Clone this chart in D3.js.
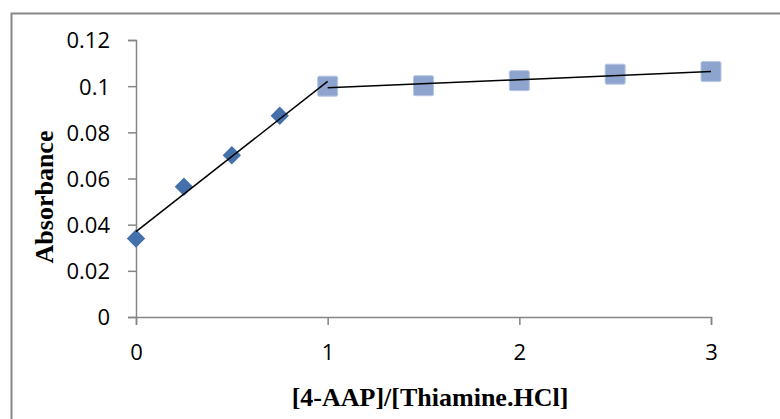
<!DOCTYPE html>
<html>
<head>
<meta charset="utf-8">
<script src="https://cdn.jsdelivr.net/npm/d3@7"></script>
<style>
  body { margin: 0; background: #fff; }
  .axis-title { font-family: "Liberation Serif", "DejaVu Serif", serif; font-weight: 700; fill: #000; }
</style>
</head>
<body>
<div id="chart"></div>
<script>
// ratio [4-AAP]/[Thiamine.HCl] vs absorbance
const riseX = [0, 0.25, 0.5, 0.75];
const riseY = [0.034, 0.0564, 0.0701, 0.0872];
const plateauX = [1, 1.5, 2, 2.5, 3];
const plateauY = [0.1, 0.1002, 0.1024, 0.1052, 0.1063];
const xTicks = [0, 1, 2, 3];
const yTicks = [0, 0.02, 0.04, 0.06, 0.08, 0.1, 0.12];

const width = 780;
const height = 419;
const margin = {top: 40, right: 69, bottom: 102, left: 136};

const svg = d3.select('#chart')
  .append('svg')
    .attr('width', width)
    .attr('height', height);

// outer chart frame
svg.append('rect')
  .attr('x', 11.5)
  .attr('y', 13.5)
  .attr('width', 800)
  .attr('height', 500)
  .attr('fill', 'none')
  .attr('stroke', '#888')
  .attr('stroke-width', 2);

const xScale = d3.scaleLinear()
  .domain([0, 3])
  .range([margin.left, width - margin.right]);
const yScale = d3.scaleLinear()
  .domain([0, 0.12])
  .range([height - margin.bottom, margin.top]);

const xAxis = svg.append('g')
  .attr('transform', `translate(0, ${yScale(0)})`)
  .call(d3.axisBottom(xScale).tickValues(xTicks).tickFormat(d3.format('d')).tickSize(8).tickPadding(19));
const yAxis = svg.append('g')
  .attr('transform', `translate(${xScale(0)}, 0)`)
  .call(d3.axisLeft(yScale).tickValues(yTicks).tickFormat(d => d === 0 ? '0' : String(+d.toFixed(2))).tickSize(8).tickPadding(18));
[xAxis, yAxis].forEach(ax => {
  ax.attr('font-family', '"Open Sans", "Noto Sans", sans-serif').attr('font-size', 22);
  ax.select('.domain').attr('stroke', '#868686').attr('stroke-width', 1.5);
  ax.selectAll('.tick line').attr('stroke', '#868686').attr('stroke-width', 1.5);
  ax.selectAll('.tick text').attr('fill', '#000');
});
yAxis.selectAll('.tick text').attr('dy', '0.36em');

// least-squares trend lines (first one includes the break point at x = 1)
const fit = (xs, ys) => {
  const mx = d3.mean(xs), my = d3.mean(ys);
  const sxy = d3.sum(xs, (x, i) => (x - mx) * (ys[i] - my));
  const sxx = d3.sum(xs, x => (x - mx) ** 2);
  const b = sxy / sxx;
  return x => my + b * (x - mx);
};
const fitRise = fit(riseX.concat(plateauX[0]), riseY.concat(plateauY[0]));
const fitPlateau = fit(plateauX, plateauY);

const line = d3.line().x(d => xScale(d[0])).y(d => yScale(d[1]));

// rising series (diamonds)
svg.append('g')
  .selectAll('path')
  .data(riseX.map((x, i) => [x, riseY[i]]))
  .join('path')
    .attr('transform', d => `translate(${xScale(d[0])}, ${yScale(d[1])}) rotate(45)`)
    .attr('d', 'M-6.5,-6.5H6.5V6.5H-6.5Z')
    .attr('fill', '#4471AB');

// plateau series (squares)
svg.append('g')
  .selectAll('rect')
  .data(plateauX.map((x, i) => [x, plateauY[i]]))
  .join('rect')
    .attr('x', d => xScale(d[0]) - 10)
    .attr('y', d => yScale(d[1]) - 10)
    .attr('width', 20)
    .attr('height', 20)
    .attr('rx', 1.5)
    .attr('fill', '#8DA5CE')
    .attr('stroke', '#B6C6E2')
    .attr('stroke-width', 1);

svg.append('path')
  .datum([[0, fitRise(0)], [1, fitRise(1)]])
  .attr('d', line)
  .attr('fill', 'none')
  .attr('stroke', '#000')
  .attr('stroke-width', 1.5);
svg.append('path')
  .datum([[1, fitPlateau(1)], [3, fitPlateau(3)]])
  .attr('d', line)
  .attr('fill', 'none')
  .attr('stroke', '#000')
  .attr('stroke-width', 1.5);

svg.append('text')
  .attr('class', 'axis-title')
  .attr('text-anchor', 'middle')
  .attr('x', 430)
  .attr('y', 406)
  .style('font-size', '26px')
  .text('[4-AAP]/[Thiamine.HCl]');

svg.append('text')
  .attr('class', 'axis-title')
  .attr('text-anchor', 'middle')
  .attr('transform', 'translate(53, 197) rotate(-90)')
  .style('font-size', '26px')
  .text('Absorbance');
</script>
</body>
</html>
